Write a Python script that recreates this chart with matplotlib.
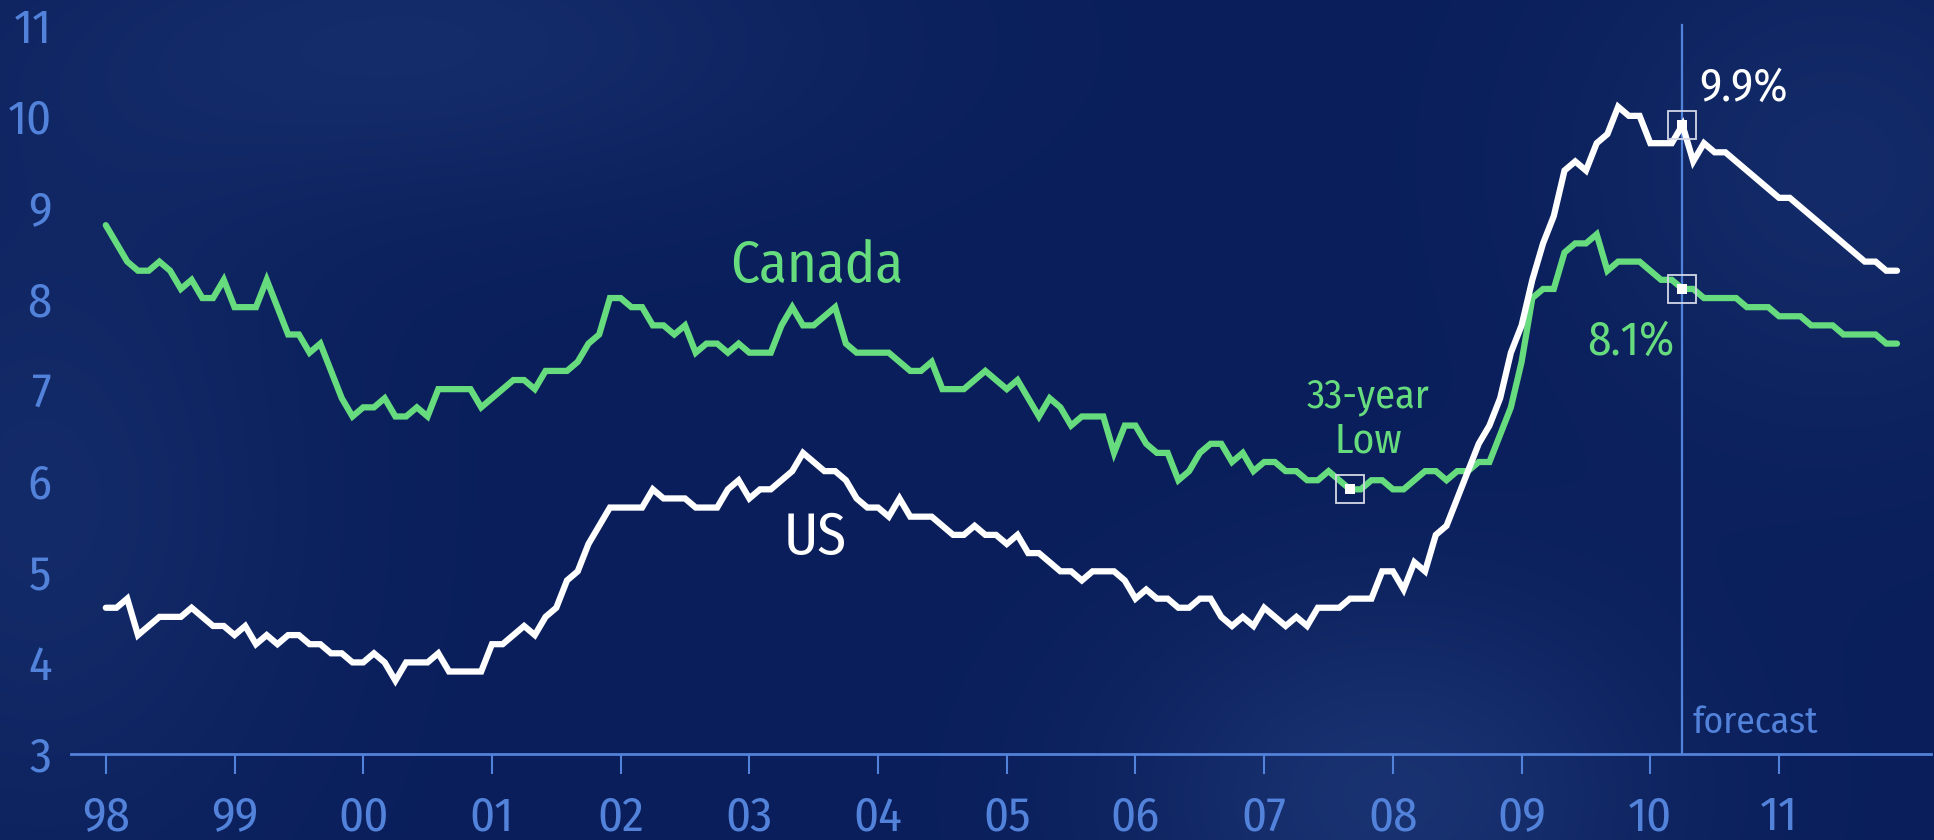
import numpy as np
import matplotlib.pyplot as plt

plt.rcParams['font.family'] = ['Fira Sans Condensed', 'Asap Condensed', 'Liberation Sans Narrow', 'DejaVu Sans']

# Monthly unemployment rate (%), Jan 1998 - Dec 2011 (from Apr 2010 = forecast)
canada = [
    8.8, 8.6, 8.4, 8.3, 8.3, 8.4, 8.3, 8.1, 8.2, 8.0, 8.0, 8.2,   # 98
    7.9, 7.9, 7.9, 8.2, 7.9, 7.6, 7.6, 7.4, 7.5, 7.2, 6.9, 6.7,   # 99
    6.8, 6.8, 6.9, 6.7, 6.7, 6.8, 6.7, 7.0, 7.0, 7.0, 7.0, 6.8,   # 00
    6.9, 7.0, 7.1, 7.1, 7.0, 7.2, 7.2, 7.2, 7.3, 7.5, 7.6, 8.0,   # 01
    8.0, 7.9, 7.9, 7.7, 7.7, 7.6, 7.7, 7.4, 7.5, 7.5, 7.4, 7.5,   # 02
    7.4, 7.4, 7.4, 7.7, 7.9, 7.7, 7.7, 7.8, 7.9, 7.5, 7.4, 7.4,   # 03
    7.4, 7.4, 7.3, 7.2, 7.2, 7.3, 7.0, 7.0, 7.0, 7.1, 7.2, 7.1,   # 04
    7.0, 7.1, 6.9, 6.7, 6.9, 6.8, 6.6, 6.7, 6.7, 6.7, 6.3, 6.6,   # 05
    6.6, 6.4, 6.3, 6.3, 6.0, 6.1, 6.3, 6.4, 6.4, 6.2, 6.3, 6.1,   # 06
    6.2, 6.2, 6.1, 6.1, 6.0, 6.0, 6.1, 6.0, 5.9, 5.9, 6.0, 6.0,   # 07
    5.9, 5.9, 6.0, 6.1, 6.1, 6.0, 6.1, 6.1, 6.2, 6.2, 6.5, 6.8,   # 08
    7.3, 8.0, 8.1, 8.1, 8.5, 8.6, 8.6, 8.7, 8.3, 8.4, 8.4, 8.4,   # 09
    8.3, 8.2, 8.2, 8.1, 8.1, 8.0, 8.0, 8.0, 8.0, 7.9, 7.9, 7.9,   # 10
    7.8, 7.8, 7.8, 7.7, 7.7, 7.7, 7.6, 7.6, 7.6, 7.6, 7.5, 7.5,   # 11
]
us = [
    4.6, 4.6, 4.7, 4.3, 4.4, 4.5, 4.5, 4.5, 4.6, 4.5, 4.4, 4.4,
    4.3, 4.4, 4.2, 4.3, 4.2, 4.3, 4.3, 4.2, 4.2, 4.1, 4.1, 4.0,
    4.0, 4.1, 4.0, 3.8, 4.0, 4.0, 4.0, 4.1, 3.9, 3.9, 3.9, 3.9,
    4.2, 4.2, 4.3, 4.4, 4.3, 4.5, 4.6, 4.9, 5.0, 5.3, 5.5, 5.7,
    5.7, 5.7, 5.7, 5.9, 5.8, 5.8, 5.8, 5.7, 5.7, 5.7, 5.9, 6.0,
    5.8, 5.9, 5.9, 6.0, 6.1, 6.3, 6.2, 6.1, 6.1, 6.0, 5.8, 5.7,
    5.7, 5.6, 5.8, 5.6, 5.6, 5.6, 5.5, 5.4, 5.4, 5.5, 5.4, 5.4,
    5.3, 5.4, 5.2, 5.2, 5.1, 5.0, 5.0, 4.9, 5.0, 5.0, 5.0, 4.9,
    4.7, 4.8, 4.7, 4.7, 4.6, 4.6, 4.7, 4.7, 4.5, 4.4, 4.5, 4.4,
    4.6, 4.5, 4.4, 4.5, 4.4, 4.6, 4.6, 4.6, 4.7, 4.7, 4.7, 5.0,
    5.0, 4.8, 5.1, 5.0, 5.4, 5.5, 5.8, 6.1, 6.4, 6.6, 6.9, 7.4,
    7.7, 8.2, 8.6, 8.9, 9.4, 9.5, 9.4, 9.7, 9.8, 10.1, 10.0, 10.0,
    9.7, 9.7, 9.7, 9.9, 9.5, 9.7, 9.6, 9.6, 9.5, 9.4, 9.3, 9.2,
    9.1, 9.1, 9.0, 8.9, 8.8, 8.7, 8.6, 8.5, 8.4, 8.4, 8.3, 8.3,
]
year_labels = ['98', '99', '00', '01', '02', '03', '04', '05', '06', '07', '08', '09', '10', '11']
y_ticks = [3, 4, 5, 6, 7, 8, 9, 10, 11]

low_month = 116        # Sep 2007, 33-year low for Canada
forecast_month = 147   # Apr 2010

GREEN = '#66dc7e'
BLUE = '#5282da'
BOX = '#d4d8e6'

t = 1998 + np.arange(len(canada)) / 12.0

fig = plt.figure(figsize=(19.34, 8.40), dpi=100)

# textured dark-blue backdrop
bg = fig.add_axes([0, 0, 1, 1], zorder=0)
bg.axis('off')
yy, xx = np.mgrid[0:1:300j, 0:1:600j]
glow = (0.5 * np.exp(-((xx - 0.22) ** 2 / 0.05 + (yy - 0.05) ** 2 / 0.04))
        + 0.45 * np.exp(-((xx - 0.02) ** 2 / 0.02 + (yy - 0.6) ** 2 / 0.2))
        + 0.7 * np.exp(-((xx - 0.72) ** 2 / 0.02 + (yy - 0.95) ** 2 / 0.06))
        + 0.45 * np.exp(-((xx - 0.95) ** 2 / 0.02 + (yy - 0.2) ** 2 / 0.1)))
dark = np.array([9, 30, 90]) / 255
light = np.array([32, 58, 122]) / 255
img = dark + np.clip(glow, 0, 1)[..., None] * (light - dark)
bg.imshow(img, aspect='auto', extent=[0, 1, 0, 1], interpolation='bicubic')
bg.set_xlim(0, 1)
bg.set_ylim(0, 1)

ax = fig.add_axes([71 / 1934, 1 - 753.5 / 840, 1860 / 1934, 751.5 / 840], zorder=1)
ax.patch.set_alpha(0)

ax.plot(t, canada, color=GREEN, lw=4.5, solid_joinstyle='miter', solid_capstyle='round', zorder=3)
ax.plot(t, us, color='white', lw=4.5, solid_joinstyle='miter', solid_capstyle='round', zorder=4)

# forecast divider
ax.plot([t[forecast_month]] * 2, [3, 11], color=BLUE, lw=1.6, zorder=2)
ax.text(t[forecast_month] + 0.08, 3.225, 'forecast', color=BLUE, fontsize=27, va='baseline', ha='left')

# highlighted points
for m, series in [(low_month, canada), (forecast_month, us), (forecast_month, canada)]:
    ax.plot(t[m], series[m], marker='s', ms=20.5, mfc='none', mec=BOX, mew=1.3, zorder=6)
    ax.plot(t[m], series[m], marker='s', ms=7, mfc='white', mec='white', mew=0, zorder=6)

ax.text(2003.52, 8.18, 'Canada', color=GREEN, fontsize=41, ha='center', va='baseline')
ax.text(2003.51, 5.19, 'US', color='white', fontsize=42, ha='center', va='baseline')
ax.text(2007.81, 6.80, '33-year', color=GREEN, fontsize=29, ha='center', va='baseline')
ax.text(2007.81, 6.30, 'Low', color=GREEN, fontsize=30, ha='center', va='baseline')
ax.text(2010.378, 10.17, '9.9%', color='white', fontsize=33, ha='left', va='baseline')
ax.text(2009.508, 7.374, '8.1%', color=GREEN, fontsize=34, ha='left', va='baseline')

ax.set_xlim(1998 + (71 - 105.8) / 128.71, 1998 + (1931 - 105.8) / 128.71)
ax.set_ylim(3, 11.25)
ax.set_xticks(np.arange(1998, 1998 + len(year_labels)))
ax.set_xticklabels(year_labels)
ax.set_yticks(y_ticks)
ax.tick_params(axis='x', direction='out', length=14.4, width=1.5, color=BLUE,
               labelcolor=BLUE, labelsize=35, pad=15)
ax.tick_params(axis='y', length=0, labelcolor=BLUE, labelsize=35, pad=14)
for side in ['top', 'right', 'left']:
    ax.spines[side].set_visible(False)
ax.spines['bottom'].set_color(BLUE)
ax.spines['bottom'].set_linewidth(2)

fig.savefig('out.png', dpi=100)
